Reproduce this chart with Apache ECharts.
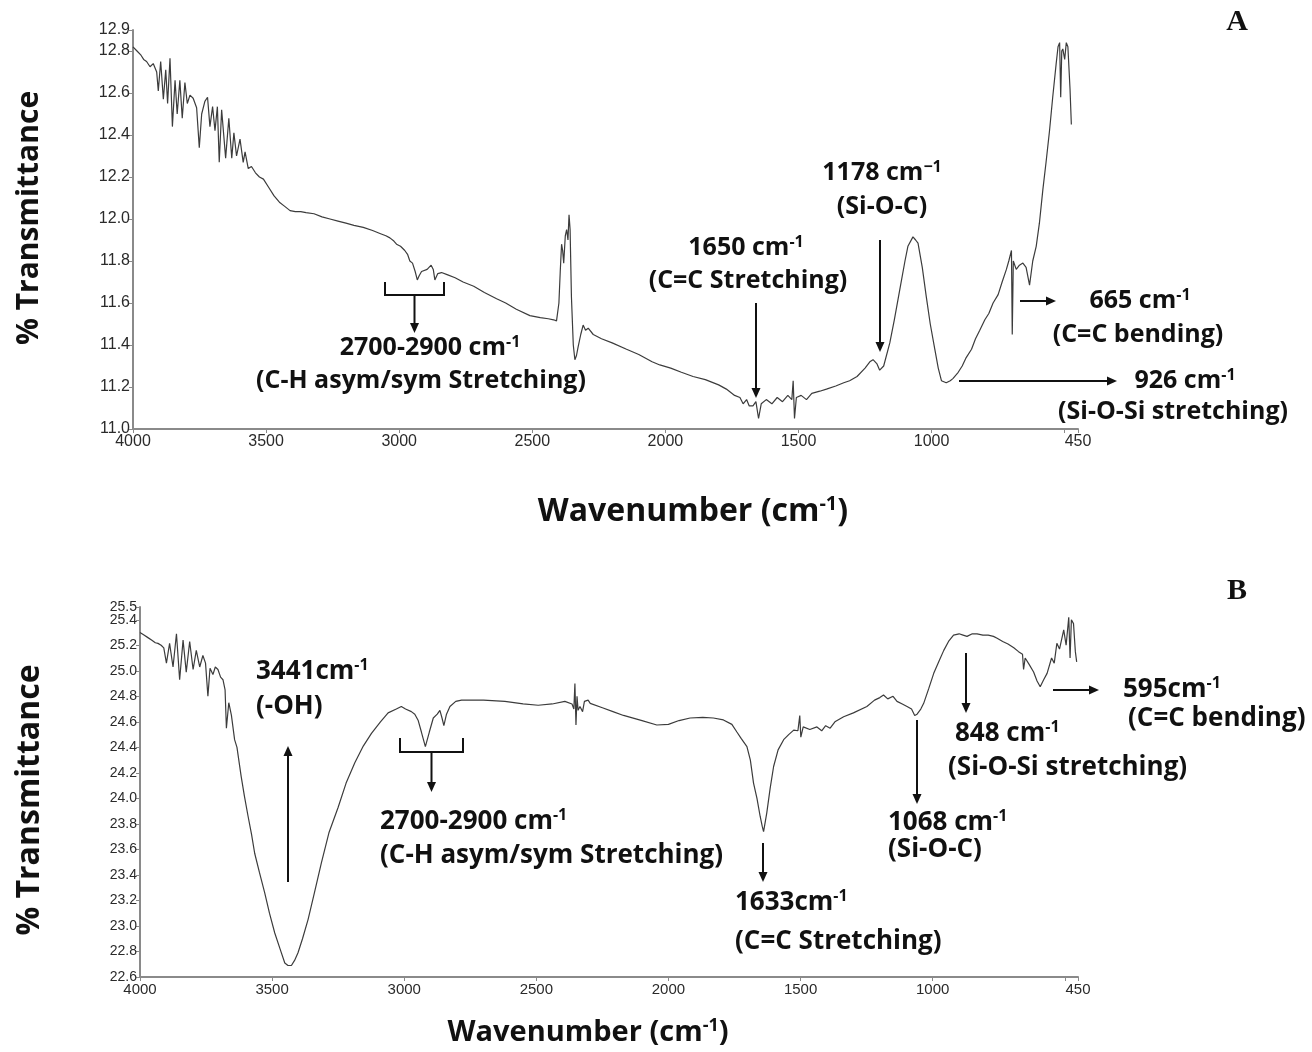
<!DOCTYPE html>
<html>
<head>
<meta charset="utf-8">
<script src="https://cdn.jsdelivr.net/npm/echarts@6.0.0/dist/echarts.min.js"></script>
<style>
  html, body { margin: 0; padding: 0; background: #fff; }
  #chart { width: 1312px; height: 1052px; }
</style>
</head>
<body>
<div id="chart"></div>
<script>
// 光谱A：[波数, 透过率]
const spectrumA = [
  [4000,12.82],[3985,12.80],[3970,12.78],[3960,12.76],[3949,12.75],[3936,12.725],[3924,12.74],[3911,12.70],
  [3905,12.61],[3896,12.75],[3886,12.57],[3877,12.71],[3870,12.55],[3861,12.765],[3852,12.44],[3842,12.66],
  [3834,12.50],[3824,12.66],[3815,12.48],[3805,12.65],[3796,12.55],[3786,12.59],[3774,12.575],[3761,12.53],
  [3751,12.34],[3742,12.50],[3730,12.56],[3720,12.58],[3711,12.44],[3701,12.535],[3692,12.42],[3683,12.535],
  [3676,12.27],[3667,12.52],[3652,12.29],[3640,12.48],[3629,12.29],[3621,12.41],[3611,12.30],[3598,12.38],
  [3586,12.27],[3579,12.32],[3567,12.24],[3555,12.25],[3540,12.22],[3525,12.20],[3510,12.19],[3490,12.15],
  [3470,12.11],[3450,12.08],[3430,12.06],[3410,12.04],[3390,12.035],[3370,12.035],[3350,12.03],[3320,12.025],
  [3290,12.01],[3260,12.00],[3230,11.99],[3200,11.98],[3170,11.97],[3135,11.96],[3100,11.945],[3070,11.93],
  [3050,11.92],[3035,11.91],[3020,11.895],[3010,11.88],[2995,11.87],[2979,11.85],[2968,11.83],[2960,11.80],
  [2950,11.79],[2940,11.75],[2932,11.71],[2925,11.73],[2916,11.75],[2895,11.76],[2880,11.78],[2872,11.76],
  [2866,11.71],[2855,11.74],[2841,11.745],[2820,11.735],[2790,11.72],[2760,11.70],[2720,11.68],[2680,11.65],
  [2634,11.62],[2600,11.60],[2560,11.57],[2509,11.54],[2470,11.53],[2440,11.525],[2420,11.52],[2409,11.515],
  [2400,11.60],[2395,11.75],[2390,11.88],[2386,11.85],[2382,11.79],[2376,11.92],[2371,11.95],[2366,11.90],
  [2362,12.02],[2358,11.95],[2353,11.63],[2346,11.40],[2340,11.33],[2334,11.35],[2328,11.39],[2318,11.45],
  [2309,11.495],[2300,11.47],[2290,11.48],[2271,11.45],[2240,11.43],[2200,11.41],[2146,11.38],[2100,11.355],
  [2050,11.32],[2021,11.305],[1980,11.29],[1940,11.27],[1896,11.25],[1850,11.235],[1800,11.21],[1771,11.19],
  [1740,11.16],[1720,11.15],[1708,11.12],[1695,11.14],[1685,11.11],[1671,11.11],[1660,11.13],[1650,11.05],
  [1640,11.12],[1621,11.14],[1600,11.12],[1580,11.15],[1560,11.13],[1540,11.16],[1525,11.14],[1520,11.23],
  [1515,11.05],[1508,11.15],[1490,11.16],[1470,11.14],[1450,11.17],[1420,11.18],[1395,11.19],[1360,11.205],
  [1330,11.22],[1308,11.23],[1280,11.25],[1250,11.29],[1232,11.32],[1220,11.33],[1205,11.31],[1195,11.28],
  [1180,11.30],[1157,11.41],[1140,11.52],[1120,11.66],[1100,11.80],[1089,11.87],[1070,11.915],[1060,11.90],
  [1051,11.885],[1035,11.77],[1020,11.63],[1005,11.50],[988,11.38],[975,11.29],[963,11.23],[945,11.22],
  [930,11.23],[920,11.24],[900,11.27],[885,11.30],[870,11.34],[850,11.38],[835,11.43],[819,11.47],
  [800,11.52],[785,11.55],[769,11.60],[750,11.64],[735,11.70],[719,11.76],[710,11.80],[700,11.85],
  [697,11.45],[693,11.80],[682,11.76],[670,11.78],[657,11.79],[645,11.77],[632,11.685],[620,11.80],
  [607,11.87],[595,11.98],[582,12.14],[570,12.27],[557,12.42],[545,12.58],[532,12.74],[525,12.82],
  [519,12.84],[515,12.58],[511,12.80],[507,12.81],[500,12.76],[494,12.84],[488,12.82],[480,12.62],[475,12.45]
];

// 光谱B：[波数, 透过率]
const spectrumB = [
  [4000,25.30],[3985,25.28],[3970,25.26],[3955,25.24],[3942,25.22],[3932,25.215],[3920,25.20],[3910,25.18],
  [3900,25.06],[3888,25.215],[3875,25.03],[3862,25.29],[3850,24.93],[3837,25.24],[3825,24.99],[3812,25.23],
  [3799,25.01],[3787,25.16],[3774,25.03],[3762,25.12],[3752,25.06],[3743,24.80],[3735,25.02],[3724,24.97],
  [3715,25.03],[3705,25.01],[3695,24.95],[3686,24.93],[3678,24.85],[3673,24.55],[3664,24.75],[3654,24.65],
  [3642,24.46],[3633,24.40],[3617,24.17],[3605,24.02],[3591,23.86],[3578,23.72],[3566,23.57],[3548,23.42],
  [3528,23.26],[3510,23.10],[3490,22.945],[3470,22.82],[3452,22.71],[3440,22.69],[3427,22.69],[3415,22.73],
  [3402,22.79],[3385,22.90],[3364,23.05],[3340,23.26],[3314,23.49],[3285,23.73],[3250,23.93],[3220,24.12],
  [3187,24.28],[3155,24.41],[3124,24.51],[3090,24.60],[3061,24.67],[3030,24.70],[3011,24.72],[2995,24.70],
  [2973,24.68],[2960,24.66],[2947,24.61],[2935,24.52],[2920,24.405],[2905,24.52],[2890,24.63],[2875,24.66],
  [2865,24.69],[2857,24.63],[2850,24.57],[2840,24.66],[2827,24.72],[2805,24.76],[2783,24.77],[2700,24.77],
  [2619,24.76],[2550,24.74],[2493,24.73],[2440,24.74],[2392,24.76],[2365,24.74],[2358,24.70],[2354,24.90],
  [2350,24.575],[2346,24.80],[2342,24.69],[2335,24.72],[2325,24.68],[2318,24.76],[2304,24.77],[2296,24.745],
  [2250,24.71],[2210,24.68],[2170,24.65],[2100,24.61],[2044,24.575],[2000,24.58],[1960,24.61],[1918,24.63],
  [1870,24.635],[1830,24.63],[1792,24.615],[1760,24.58],[1741,24.52],[1725,24.47],[1703,24.405],[1690,24.30],
  [1678,24.12],[1665,24.00],[1653,23.86],[1645,23.78],[1640,23.74],[1634,23.75],[1628,23.885],[1615,24.08],
  [1602,24.25],[1585,24.38],[1564,24.46],[1545,24.50],[1526,24.535],[1510,24.53],[1503,24.65],[1499,24.48],
  [1490,24.56],[1465,24.54],[1438,24.56],[1420,24.53],[1405,24.57],[1388,24.55],[1370,24.60],[1337,24.64],
  [1300,24.67],[1249,24.72],[1220,24.77],[1200,24.79],[1186,24.81],[1170,24.78],[1150,24.80],[1135,24.76],
  [1115,24.74],[1097,24.72],[1080,24.70],[1068,24.65],[1059,24.66],[1045,24.70],[1034,24.745],[1015,24.86],
  [996,24.98],[975,25.08],[958,25.16],[940,25.23],[921,25.28],[900,25.29],[885,25.28],[870,25.27],
  [850,25.29],[832,25.29],[810,25.28],[790,25.28],[770,25.27],[756,25.255],[735,25.23],[715,25.21],
  [693,25.18],[675,25.15],[660,25.13],[656,25.01],[650,25.10],[635,25.05],[618,24.99],[605,24.92],
  [593,24.875],[580,24.93],[567,24.98],[550,25.10],[540,25.06],[530,25.215],[520,25.17],[504,25.32],
  [495,25.20],[485,25.42],[480,25.10],[475,25.40],[467,25.37],[460,25.15],[455,25.07]
];

// 坐标轴刻度
const xTicks = [4000, 3500, 3000, 2500, 2000, 1500, 1000, 500, 450];
const xLabels = [4000, 3500, 3000, 2500, 2000, 1500, 1000, 450];
const yTicksA = [11.0, 11.2, 11.4, 11.6, 11.8, 12.0, 12.2, 12.4, 12.6, 12.8, 12.9];
const yTicksB = [22.6, 22.8, 23.0, 23.2, 23.4, 23.6, 23.8, 24.0, 24.2, 24.4, 24.6, 24.8, 25.0, 25.2, 25.4, 25.5];
const yLabelsB = [22.6, 22.8, 23.0, 23.2, 23.4, 23.6, 23.8, 24.0, 24.2, 24.4, 24.6, 24.8, 25.0, 25.2, 25.4];
const yTopLabelB = [25.5];

const AXIS_COLOR = '#8a8a8a';
const LABEL_FONT = 'Liberation Sans';
const NOTE_FONT = 'Open Sans';

const chart = echarts.init(document.getElementById('chart'));

const makeX = (gridIndex, fontSize) => ({
  type: 'value',
  gridIndex,
  min: 450,
  max: 4000,
  inverse: true,
  axisLine: { onZero: false, lineStyle: { color: AXIS_COLOR, width: 2 } },
  axisTick: { customValues: xTicks, length: 4, lineStyle: { color: AXIS_COLOR } },
  axisLabel: {
    customValues: xLabels, color: '#2a2a2a', fontSize, fontFamily: LABEL_FONT, margin: 5,
    formatter: (v) => String(v)
  },
  splitLine: { show: false }
});

const makeY = (gridIndex, min, max, ticks, labels, fontSize) => ({
  type: 'value',
  gridIndex,
  position: 'left',
  min,
  max,
  axisLine: { show: true, lineStyle: { color: AXIS_COLOR, width: 2 } },
  axisTick: { show: true, customValues: ticks, length: 4, lineStyle: { color: AXIS_COLOR } },
  axisLabel: {
    customValues: labels, color: '#2a2a2a', fontSize, fontFamily: LABEL_FONT, margin: 3,
    showMinLabel: true, showMaxLabel: true, hideOverlap: false,
    formatter: (v) => v.toFixed(1)
  },
  splitLine: { show: false }
});

// 带上标的文字
const supText = (x, y, main, sup, size, align, tail) => ({
  type: 'text',
  x, y,
  style: {
    text: '{m|' + main + '}{s|' + sup + '}' + (tail ? '{m|' + tail + '}' : ''),
    align: align || 'center',
    verticalAlign: 'middle',
    rich: {
      m: { fontSize: size, fontWeight: 'bold', fontFamily: NOTE_FONT, fill: '#111', lineHeight: size * 1.1 },
      s: { fontSize: Math.round(size * 0.62), fontWeight: 'bold', fontFamily: NOTE_FONT, fill: '#111', verticalAlign: 'top' }
    }
  }
});

const plainText = (x, y, text, size, align) => ({
  type: 'text',
  x, y,
  style: {
    text, align: align || 'center', verticalAlign: 'middle',
    fontSize: size, fontWeight: 'bold', fontFamily: NOTE_FONT, fill: '#111'
  }
});

// 箭头：从(x1,y1)指向(x2,y2)
const arrow = (x1, y1, x2, y2) => {
  const ang = Math.atan2(y2 - y1, x2 - x1);
  const L = 10, W = 4.5;
  const bx = x2 - L * Math.cos(ang), by = y2 - L * Math.sin(ang);
  const px = -Math.sin(ang) * W, py = Math.cos(ang) * W;
  return [
    { type: 'line', shape: { x1, y1, x2: bx, y2: by }, style: { stroke: '#111', lineWidth: 2 } },
    { type: 'polygon', shape: { points: [[x2, y2], [bx + px, by + py], [bx - px, by - py]] }, style: { fill: '#111' } }
  ];
};

const bracket = (xl, xr, yTop, yBar, yEnd) => [
  { type: 'polyline', shape: { points: [[xl, yTop], [xl, yBar], [xr, yBar], [xr, yTop]] }, style: { stroke: '#111', lineWidth: 2, fill: null } },
  ...arrow((xl + xr) / 2, yBar, (xl + xr) / 2, yEnd)
];

const axisTitleY = (x, y, size) => ({
  type: 'text', x, y, rotation: Math.PI / 2,
  style: { text: '% Transmittance', align: 'center', verticalAlign: 'middle', fontSize: size, fontWeight: 'bold', fontFamily: NOTE_FONT, fill: '#111' }
});

const FA = 25, FB = 26;

const graphics = [
  // 面板标记
  { type: 'text', x: 1237, y: 22, style: { text: 'A', align: 'center', verticalAlign: 'middle', fontSize: 30, fontWeight: 'bold', fontFamily: 'Liberation Serif', fill: '#111' } },
  { type: 'text', x: 1237, y: 591, style: { text: 'B', align: 'center', verticalAlign: 'middle', fontSize: 30, fontWeight: 'bold', fontFamily: 'Liberation Serif', fill: '#111' } },
  // 坐标轴标题
  axisTitleY(29, 218, 30),
  axisTitleY(30, 800, 32),
  supText(693, 512, 'Wavenumber (cm', '-1', 32, 'center', ')'),
  supText(588, 1033, 'Wavenumber (cm', '-1', 29, 'center', ')'),
  // ---- A ----
  ...bracket(385, 444, 282, 295, 333),
  supText(430, 348, '2700-2900 cm', '-1', FA),
  plainText(421, 381, '(C-H asym/sym Stretching)', FA),
  supText(746, 248, '1650 cm', '-1', FA),
  plainText(748, 281, '(C=C Stretching)', FA),
  ...arrow(756, 303, 756, 398),
  supText(882, 173, '1178 cm', '−1', FA),
  plainText(882, 207, '(Si-O-C)', FA),
  ...arrow(880, 240, 880, 352),
  ...arrow(1020, 301, 1056, 301),
  supText(1140, 301, '665 cm', '-1', FA),
  plainText(1138, 335, '(C=C bending)', FA),
  ...arrow(959, 381, 1117, 381),
  supText(1185, 381, '926 cm', '-1', FA),
  plainText(1173, 412, '(Si-O-Si stretching)', FA),
  // ---- B ----
  supText(256, 672, '3441cm', '-1', FB, 'left'),
  plainText(256, 707, '(-OH)', FB, 'left'),
  ...arrow(288, 882, 288, 746),
  ...bracket(400, 463, 738, 752, 792),
  supText(380, 822, '2700-2900 cm', '-1', FB, 'left'),
  plainText(380, 856, '(C-H asym/sym Stretching)', FB, 'left'),
  ...arrow(763, 843, 763, 882),
  supText(735, 903, '1633cm', '-1', FB, 'left'),
  plainText(735, 942, '(C=C Stretching)', FB, 'left'),
  ...arrow(917, 720, 917, 804),
  supText(888, 823, '1068 cm', '-1', FB, 'left'),
  plainText(888, 850, '(Si-O-C)', FB, 'left'),
  ...arrow(966, 653, 966, 713),
  supText(955, 734, '848 cm', '-1', FB, 'left'),
  plainText(948, 768, '(Si-O-Si stretching)', FB, 'left'),
  ...arrow(1053, 690, 1099, 690),
  supText(1123, 690, '595cm', '-1', FB, 'left'),
  plainText(1128, 719, '(C=C bending)', FB, 'left')
];

const lineSeries = (idx, data) => ({
  type: 'line',
  xAxisIndex: idx,
  yAxisIndex: idx,
  data,
  showSymbol: false,
  symbol: 'none',
  silent: true,
  animation: false,
  lineStyle: { color: '#3c3c3c', width: 1.2 }
});

// B面板顶部的25.5标签单独放在一个辅助轴上，避免与25.4互相遮挡被隐藏
const topLabelAxisB = {
  type: 'value',
  gridIndex: 1,
  position: 'left',
  offset: 0,
  min: 22.6,
  max: 25.5,
  axisLine: { show: false },
  axisTick: { show: false },
  axisLabel: {
    customValues: yTopLabelB, color: '#2a2a2a', fontSize: 14, fontFamily: LABEL_FONT, margin: 3,
    showMaxLabel: true, formatter: (v) => v.toFixed(1)
  },
  splitLine: { show: false }
};

chart.setOption({
  backgroundColor: '#fff',
  animation: false,
  grid: [
    { left: 133, top: 30, width: 945, height: 399 },
    { left: 140, top: 607, width: 938, height: 370 }
  ],
  xAxis: [makeX(0, 16), makeX(1, 15)],
  yAxis: [
    makeY(0, 11.0, 12.9, yTicksA, yTicksA, 16),
    makeY(1, 22.6, 25.5, yTicksB, yLabelsB, 14),
    topLabelAxisB
  ],
  series: [lineSeries(0, spectrumA), lineSeries(1, spectrumB)],
  graphic: graphics
});
</script>
</body>
</html>
